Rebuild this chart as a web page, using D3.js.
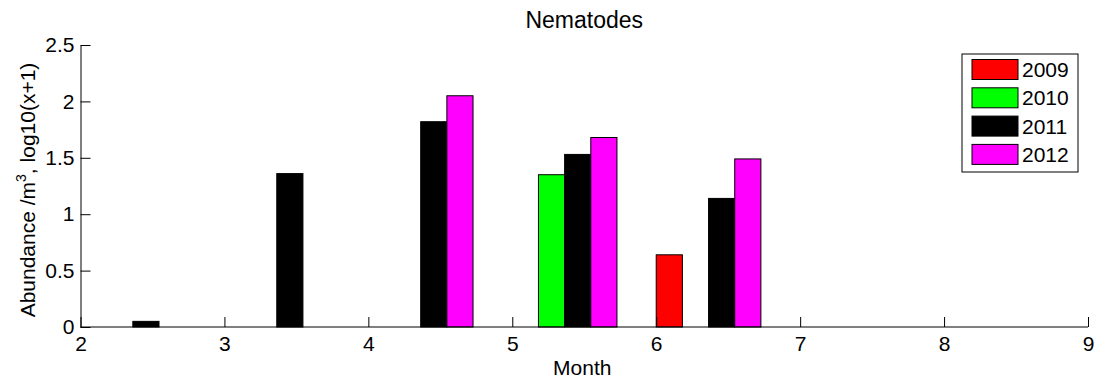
<!DOCTYPE html>
<html>
<head>
<meta charset="utf-8">
<script src="https://cdn.jsdelivr.net/npm/d3@7"></script>
<style>
  html, body { margin: 0; padding: 0; background: #fff; }
  svg { display: block; }
  text { font-family: "Liberation Sans", Arial, sans-serif; fill: #000; }
</style>
</head>
<body>
<svg id="chart" width="1094" height="381"></svg>
<script>
// ---- data ----
const months = [2, 3, 4, 5, 6];
const seriesNames = ["2009", "2010", "2011", "2012"];
const values2009 = [0, 0, 0, 0, 0.64];
const values2010 = [0, 0, 0, 1.35, 0];
const values2011 = [0.05, 1.36, 1.82, 1.53, 1.14];
const values2012 = [0, 0, 2.05, 1.68, 1.49];
const seriesColors = ["#ff0000", "#00ff00", "#000000", "#ff00ff"];
const xTicks = [2, 3, 4, 5, 6, 7, 8, 9];
const yTicks = [0, 0.5, 1, 1.5, 2, 2.5];
const titleText = "Nematodes";
const xLabelText = "Month";

const allSeries = [values2009, values2010, values2011, values2012];

// ---- layout ----
const svg = d3.select("#chart");
const margin = { left: 80.5, right: 1088, top: 45, bottom: 327 };
const x = d3.scaleLinear().domain([2, 9]).range([margin.left, margin.right]);
const y = d3.scaleLinear().domain([0, 2.5]).range([margin.bottom, margin.top]);

// MATLAB-style grouped bars: group width 4/5.5, bars touch
const groupWidth = 4 / 5.5;
const barWidth = groupWidth / 4;
const groupOffset = groupWidth / 2;

const bars = [];
allSeries.forEach((vals, si) => {
  vals.forEach((v, mi) => {
    if (v > 0) {
      const center = months[mi] + groupOffset;
      const x0 = center - groupWidth / 2 + si * barWidth;
      bars.push({ x0, x1: x0 + barWidth, v, si });
    }
  });
});

svg.append("g").selectAll("rect").data(bars).join("rect")
  .attr("x", d => x(d.x0))
  .attr("width", d => x(d.x1) - x(d.x0))
  .attr("y", d => y(d.v))
  .attr("height", d => y(0) - y(d.v))
  .attr("fill", d => seriesColors[d.si])
  .attr("stroke", "#000")
  .attr("stroke-width", 1);

// axes
const fontSize = 21;
const xAxis = d3.axisBottom(x).tickValues(xTicks).tickFormat(d3.format("d"))
  .tickSizeInner(-10).tickSizeOuter(0).tickPadding(9);
const gx = svg.append("g").attr("transform", `translate(0,${margin.bottom})`).call(xAxis);
gx.selectAll("text").style("font-size", fontSize + "px").attr("fill", "#000");
gx.selectAll("line, path").attr("stroke", "#000");

const yAxis = d3.axisLeft(y).tickValues(yTicks).tickFormat(d => String(d))
  .tickSizeInner(-10).tickSizeOuter(0).tickPadding(6);
const gy = svg.append("g").attr("transform", `translate(${margin.left},0)`).call(yAxis);
gy.selectAll("text").style("font-size", fontSize + "px").attr("fill", "#000");
gy.selectAll("line, path").attr("stroke", "#000");
gx.select(".domain").attr("d", `M${margin.left},0H${margin.right}`);

// title
svg.append("text")
  .attr("x", (margin.left + margin.right) / 2)
  .attr("y", 28)
  .attr("text-anchor", "middle")
  .style("font-size", "23px")
  .text(titleText);

// x label
svg.append("text")
  .attr("x", (margin.left + margin.right) / 2 - 2)
  .attr("y", 375)
  .attr("text-anchor", "middle")
  .style("font-size", fontSize + "px")
  .text(xLabelText);

// y label
const yl = svg.append("text")
  .attr("transform", `translate(35,${(margin.top + margin.bottom) / 2 + 4}) rotate(-90)`)
  .attr("text-anchor", "middle")
  .style("font-size", fontSize + "px");
yl.append("tspan").text("Abundance /m");
yl.append("tspan").attr("dy", -9).style("font-size", "14px").text("3");
yl.append("tspan").attr("dy", 9).text(", log10(x+1)");

// legend
const lg = svg.append("g");
lg.append("rect")
  .attr("x", 962).attr("y", 54).attr("width", 116).attr("height", 118)
  .attr("fill", "#fff").attr("stroke", "#000").attr("stroke-width", 1);
const rows = lg.selectAll("g.row").data(seriesNames).join("g")
  .attr("class", "row")
  .attr("transform", (d, i) => `translate(0,${69.5 + i * 28.3})`);
rows.append("rect")
  .attr("x", 972).attr("y", -10).attr("width", 46).attr("height", 20)
  .attr("fill", (d, i) => seriesColors[i])
  .attr("stroke", "#000").attr("stroke-width", 1);
rows.append("text")
  .attr("x", 1022).attr("y", 7.5)
  .style("font-size", fontSize + "px")
  .text(d => d);
</script>
</body>
</html>
